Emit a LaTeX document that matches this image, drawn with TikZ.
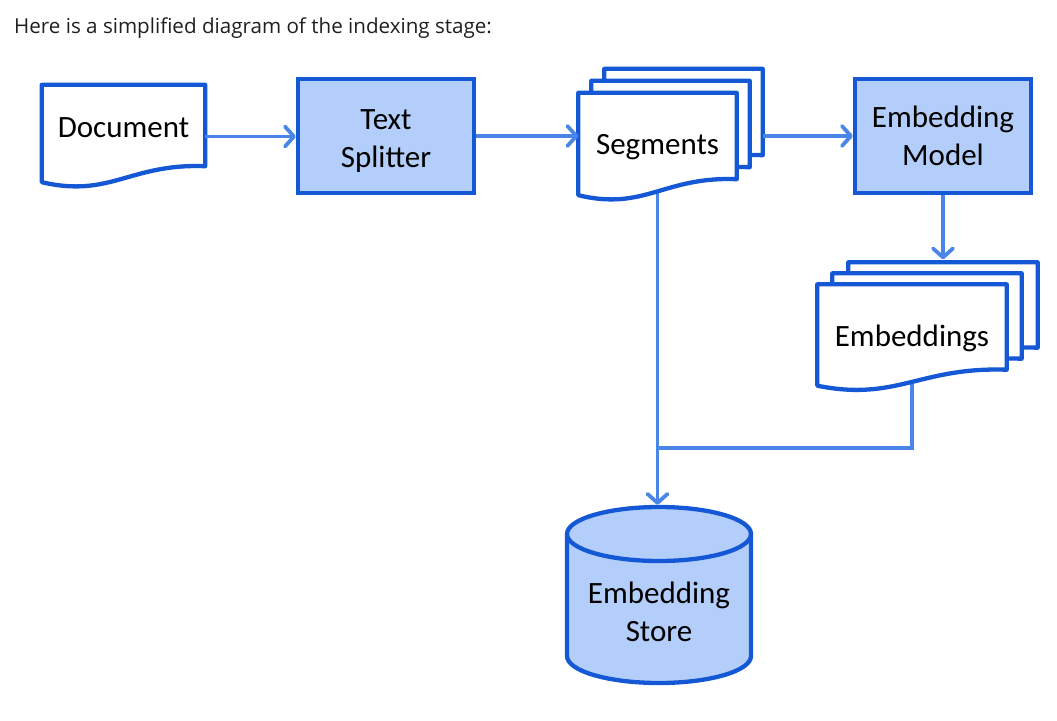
\documentclass[tikz,border=0pt]{standalone}
\usepackage{fontspec}
\setmainfont{Carlito}
\newfontfamily\headfont{Open Sans}
\usepackage{tikz}
\usetikzlibrary{arrows.meta}
\usetikzlibrary{calc}
\usetikzlibrary{backgrounds}

\definecolor{lineblue}{HTML}{1558D6}
\definecolor{fillblue}{HTML}{B3CEFA}
\definecolor{flowblue}{HTML}{4A86E8}
\definecolor{headgray}{HTML}{1F1F1F}

% page outline with a wavy lower edge, hung on a node
\newcommand{\pageshape}[1]{%
	\draw[pageline] (#1.north west) -- (#1.north east) -- ($(#1.south east)+(0,-22)$)
		.. controls ($(#1.south west)!0.54!(#1.south east)+(0,-25)$) and ($(#1.south west)!0.42!(#1.south east)+(0,10)$)
		.. ($(#1.south west)+(0,-6)$) -- cycle;}

\begin{document}
\begin{tikzpicture}[x=1pt, y=-1pt,
		label/.style={font=\fontsize{31}{38}\selectfont, align=center, text=black},
		page/.style={label, rectangle, inner sep=0pt},
		procbox/.style={label, rectangle, draw=lineblue, fill=fillblue, line width=4.3pt, inner sep=0pt},
		pageline/.style={draw=lineblue, fill=white, line width=4.3pt, line join=round},
		storeline/.style={draw=lineblue, fill=fillblue, line width=4.3pt},
		link/.style={draw=flowblue, line width=3.8pt},
		flow/.style={link, -{Straight Barb[length=9pt, width=20pt, round]}}]
	\useasboundingbox (0,0) rectangle (1057,720);

	\node[anchor=base west, font=\headfont\fontsize{20.6}{24}\selectfont, text=headgray, inner sep=0pt] (head) at (14,33) {Here is a simplified diagram of the indexing stage:};

	\node[page, minimum width=163, minimum height=103, text depth=18pt] (doc) at (123.5,136.5) {Document};
	\node[procbox, minimum width=176, minimum height=114] (split) at (386,136) {\rule{0pt}{29pt}Text\\Splitter};
	\node[page, minimum width=158, minimum height=108] (seg3) at (683.5,123) {};
	\node[page, minimum width=158, minimum height=108] (seg2) at (670.5,135) {};
	\node[page, minimum width=158, minimum height=108] (seg) at (657.5,147) {Segments};
	\node[procbox, minimum width=176, minimum height=114] (model) at (943,136) {Embedding\\Model};
	\node[page, minimum width=189, minimum height=107] (emb3) at (943,316) {};
	\node[page, minimum width=189, minimum height=107] (emb2) at (927,327) {};
	\node[page, minimum width=189, minimum height=107] (emb) at (912,338) {Embeddings};
	\node[label, minimum width=184, minimum height=210, inner sep=0pt] (store) at (659,612) {Embedding\\Store};
	\coordinate (join) at (657.5,448);

	\draw[flow] (doc.east) -- (doc.east -| split.west);
	\draw[flow] (split.east) -- (split.east -| seg.west);
	\draw[flow] (seg3.east |- model.west) -- (model.west);
	\draw[flow, shorten >=3pt] (model.south) -- (model.south |- emb3.north);

	\begin{scope}[on background layer]
		\draw[link] (emb.center) |- (join);
		\draw[flow, shorten >=2pt] (seg.center) -- (seg.center |- store.north);

		\pageshape{doc}
		\pageshape{seg3}
		\pageshape{seg2}
		\pageshape{seg}
		\pageshape{emb3}
		\pageshape{emb2}
		\pageshape{emb}

		% cylinder round the store text
		\draw[storeline] ($(store.center)+(-92,-78)$) -- ($(store.center)+(-92,44)$)
			arc[start angle=180, end angle=360, x radius=92pt, y radius=27pt]
			-- ($(store.center)+(92,-78)$)
			arc[start angle=0, end angle=180, x radius=92pt, y radius=27pt] -- cycle;
		\draw[storeline, fill=none] ($(store.center)+(-92,-78)$)
			arc[start angle=180, end angle=360, x radius=92pt, y radius=27pt];
	\end{scope}
\end{tikzpicture}
\end{document}
